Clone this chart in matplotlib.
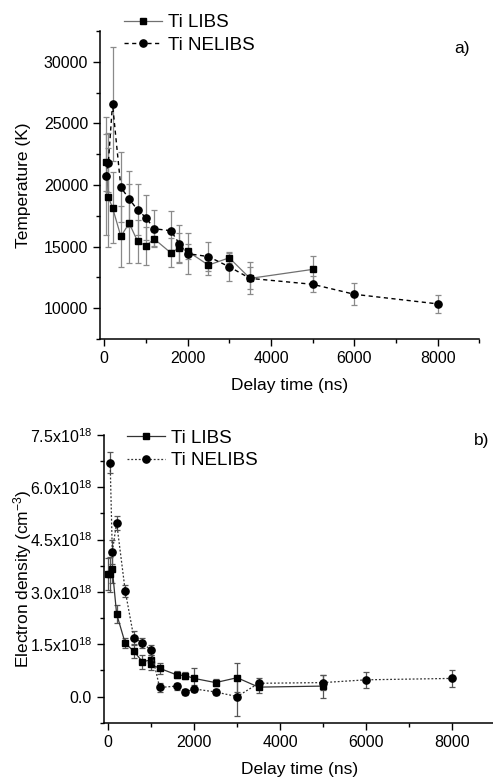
import matplotlib
matplotlib.use("Agg")
import matplotlib.pyplot as plt
from matplotlib.ticker import MultipleLocator, FuncFormatter

plt.rcParams['font.family'] = ['Liberation Sans', 'DejaVu Sans']
plt.rcParams['mathtext.fontset'] = 'custom'
plt.rcParams['mathtext.rm'] = 'Liberation Sans'
plt.rcParams['mathtext.it'] = 'Liberation Sans'

# ---- panel a) temperature ----
t_libs_x = [50, 100, 200, 400, 600, 800, 1000, 1200, 1600, 1800, 2000, 2500, 3000, 3500, 5000]
t_libs_y = [21850, 19000, 18170, 15830, 16900, 15440, 15060, 15620, 14490, 14900, 14620, 13500, 14090, 12420, 13150]
t_libs_e = [2300, 4000, 2900, 2450, 3200, 1750, 1530, 550, 1180, 1200, 600, 800, 450, 900, 1050]

t_ne_x = [50, 100, 200, 400, 600, 800, 1000, 1200, 1600, 1800, 2000, 2500, 3000, 3500, 5000, 6000, 8000]
t_ne_y = [20720, 21800, 26580, 19810, 18870, 17980, 17360, 16450, 16290, 15240, 14430, 14190, 13360, 12420, 11940, 11130, 10350]
t_ne_e = [4800, 2400, 4600, 2850, 2300, 2070, 1850, 1500, 1600, 1500, 1650, 1200, 1150, 1300, 650, 900, 750]

# ---- panel b) electron density (x1e18 cm^-3) ----
n_libs_x = [0, 50, 100, 200, 400, 600, 800, 1000, 1000, 1200, 1600, 1800, 2000, 2500, 3000, 3500, 5000]
n_libs_y = [3.51, 3.51, 3.66, 2.37, 1.53, 1.30, 1.00, 1.05, 0.92, 0.81, 0.62, 0.60, 0.52, 0.40, 0.54, 0.27, 0.30]
n_libs_e = [0.45, 0.5, 0.4, 0.25, 0.15, 0.2, 0.2, 0.15, 0.15, 0.15, 0.1, 0.1, 0.3, 0.1, 0.42, 0.16, 0.33]

n_ne_x = [50, 100, 200, 400, 600, 800, 1000, 1200, 1600, 1800, 2000, 2500, 3000, 3500, 5000, 6000, 8000]
n_ne_y = [6.71, 4.15, 4.99, 3.03, 1.69, 1.54, 1.33, 0.26, 0.30, 0.13, 0.22, 0.13, 0.0, 0.38, 0.40, 0.48, 0.52]
n_ne_e = [0.29, 0.35, 0.2, 0.17, 0.2, 0.15, 0.15, 0.12, 0.1, 0.1, 0.1, 0.1, 0.57, 0.16, 0.22, 0.23, 0.25]

W, H = 493, 783
fig = plt.figure(figsize=(W / 100, H / 100), dpi=100)

ax1 = fig.add_axes([100 / W, (H - 339) / H, 379.4 / W, 308 / H])
ax2 = fig.add_axes([103.7 / W, (H - 722.7) / H, 391.6 / W, 287.7 / H])

ecol = '#8a8a8a'

def style(ax):
    for s in ['top', 'right']:
        ax.spines[s].set_visible(False)
    for s in ['left', 'bottom']:
        ax.spines[s].set_linewidth(1.1)
    ax.tick_params(which='major', direction='out', length=5, width=1.0, labelsize=11.5, pad=3.5)
    ax.tick_params(which='minor', direction='out', length=3, width=1.0)
    ax.set_xlim(-100, 9000)
    ax.xaxis.set_major_locator(MultipleLocator(2000))
    ax.xaxis.set_minor_locator(MultipleLocator(1000))
    ax.set_xlabel('Delay time (ns)', fontsize=12.5, labelpad=9)

# top
ax1.errorbar(t_libs_x, t_libs_y, yerr=t_libs_e, fmt='none', ecolor=ecol, elinewidth=0.9, capsize=2.5, capthick=0.9, zorder=1)
ax1.errorbar(t_ne_x, t_ne_y, yerr=t_ne_e, fmt='none', ecolor=ecol, elinewidth=0.9, capsize=2.5, capthick=0.9, zorder=1)
ax1.plot(t_libs_x, t_libs_y, '-', color='#707070', lw=0.9, marker='s', ms=4.6, mfc='black', mec='black', label='Ti LIBS', zorder=3)
ax1.plot(t_ne_x, t_ne_y, '--', color='black', lw=1.0, dashes=(3, 2.5), marker='o', ms=5.2, mfc='black', mec='black', label='Ti NELIBS', zorder=3)
style(ax1)
ax1.set_ylim(7500, 32500)
ax1.yaxis.set_major_locator(MultipleLocator(5000))
ax1.yaxis.set_minor_locator(MultipleLocator(2500))
ax1.set_ylabel('Temperature (K)', fontsize=12.5, labelpad=9)
ax1.legend(loc='upper left', bbox_to_anchor=(124 / W, 1 - 14 / H), bbox_transform=fig.transFigure,
           frameon=False, fontsize=13.5, handlelength=2.0, handletextpad=0.35, labelspacing=0.3, borderpad=0, borderaxespad=0)
fig.text(461.7 / W, 1 - 48.3 / H, 'a)', fontsize=12.5, ha='center', va='center')

# bottom
ax2.errorbar(n_libs_x, n_libs_y, yerr=n_libs_e, fmt='none', ecolor='#555555', elinewidth=0.9, capsize=2.5, capthick=0.9, zorder=1)
ax2.errorbar(n_ne_x, n_ne_y, yerr=n_ne_e, fmt='none', ecolor='#555555', elinewidth=0.9, capsize=2.5, capthick=0.9, zorder=1)
ax2.plot(n_libs_x, n_libs_y, '-', color='#333333', lw=0.9, marker='s', ms=4.6, mfc='black', mec='black', label='Ti LIBS', zorder=3)
ax2.plot(n_ne_x, n_ne_y, ':', color='#333333', lw=0.9, dashes=(1.5, 1.5), marker='o', ms=5.2, mfc='black', mec='black', label='Ti NELIBS', zorder=3)
style(ax2)
ax2.set_ylim(-0.75, 7.5)
ax2.yaxis.set_major_locator(MultipleLocator(1.5))
ax2.yaxis.set_minor_locator(MultipleLocator(0.75))

def dens_fmt(v, pos):
    if abs(v) < 1e-9:
        return '0.0'
    return r'%.1fx10$^{18}$' % v
ax2.yaxis.set_major_formatter(FuncFormatter(dens_fmt))
ax2.set_ylabel(r'Electron density (cm$^{-3}$)', fontsize=12.5, labelpad=-3)
ax2.legend(loc='upper left', bbox_to_anchor=(127 / W, 1 - 429.5 / H), bbox_transform=fig.transFigure,
           frameon=False, fontsize=13.5, handlelength=2.0, handletextpad=0.35, labelspacing=0.3, borderpad=0, borderaxespad=0)
fig.text(481.7 / W, 1 - 440 / H, 'b)', fontsize=12.5, ha='center', va='center')

fig.savefig('out.png', dpi=100)
